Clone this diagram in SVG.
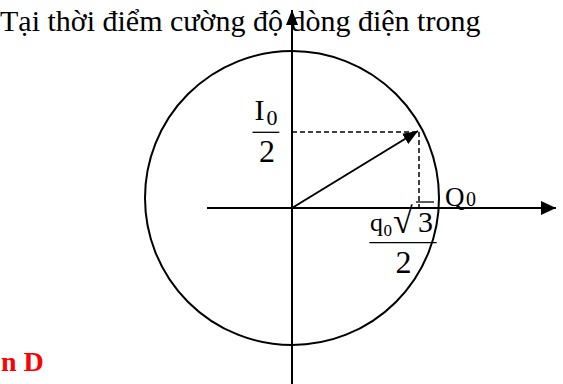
<svg xmlns="http://www.w3.org/2000/svg" width="563" height="384" viewBox="0 0 563 384">
<style>
.t{font-family:"Liberation Serif","Times New Roman",serif;fill:#000}
.ln{stroke:#000;stroke-width:2;fill:none}
.ds{stroke:#000;stroke-width:1.5;stroke-dasharray:5,3;fill:none}
.bar{stroke:#000;stroke-width:1.3}
</style>
<defs>
<marker id="ah" markerUnits="userSpaceOnUse" markerWidth="16" markerHeight="14" refX="15" refY="7" orient="auto">
<path d="M0,0 L15,7 L0,14 Z" fill="#000"/>
</marker>
<marker id="av" markerUnits="userSpaceOnUse" markerWidth="16" markerHeight="14" refX="15" refY="6" orient="auto">
<path d="M0,0 L15,6 L0,12 Z" fill="#000"/>
</marker>
</defs>
<text class="t" x="0" y="31" font-size="30">Tại thời điểm cường độ dòng điện trong</text>
<g id="circle"><circle cx="292" cy="198" r="147" class="ln" stroke-width="1.8"/></g>
<g id="connectors">
<line x1="292" y1="384" x2="292" y2="10" class="ln" marker-end="url(#av)"/>
<line x1="207" y1="208" x2="556" y2="208" class="ln" marker-end="url(#ah)"/>
<line x1="292" y1="208" x2="418" y2="131" class="ln" marker-end="url(#av)"/>
<line x1="292" y1="132" x2="419" y2="132" class="ds"/>
<line x1="419" y1="132" x2="419" y2="207" class="ds"/>
</g>
<g id="label-I0">
<text class="t" x="254.5" y="120" font-size="30">I</text>
<text class="t" x="266.5" y="125" font-size="22">0</text>
<line x1="252.5" y1="132.3" x2="279.3" y2="132.3" class="bar"/>
<text class="t" x="259" y="161.7" font-size="32">2</text>
</g>
<g id="label-Q0">
<text class="t" x="445" y="206" font-size="27">Q</text>
<text class="t" x="466" y="205.5" font-size="20">0</text>
</g>
<g id="label-q0sqrt3">
<text class="t" x="370" y="230.7" font-size="26">q</text>
<text class="t" x="383.5" y="236" font-size="17">0</text>
<text class="t" x="393" y="233" font-size="36">√</text>
<line x1="416" y1="202" x2="434" y2="202" class="bar"/>
<text class="t" x="418" y="231.7" font-size="30">3</text>
<line x1="369.3" y1="242.7" x2="436.7" y2="242.7" class="bar"/>
<text class="t" x="395.5" y="273" font-size="32">2</text>
</g>
<text x="1" y="371" font-family="Liberation Serif,serif" font-weight="bold" font-size="28" fill="#ff0000">n D</text>
</svg>
